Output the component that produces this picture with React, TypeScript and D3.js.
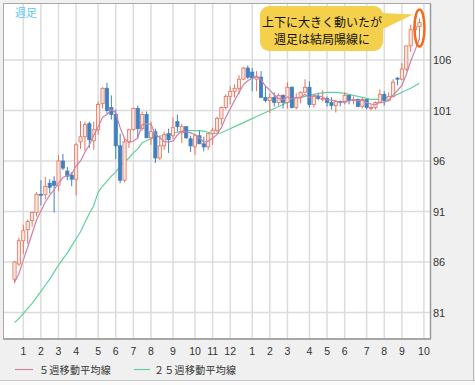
import React from "react";
import * as d3 from "d3";

// weekly USD/JPY-like candles, index 0 = first week shown
const opens = [84.3,85.8,88.1,89.2,90.1,90.9,92.7,92.7,93.8,94.0,93.6,96.0,95.0,94.6,94.2,97.9,98.4,99.7,98.0,99.1,101.7,103.2,101.3,100.6,97.5,94.1,97.9,99.1,101.2,99.2,100.6,98.3,98.9,96.3,97.5,98.7,98.5,99.9,98.8,99.4,98.2,97.4,98.5,97.7,97.4,98.7,99.0,100.2,101.3,102.4,102.9,103.2,104.1,105.2,104.8,104.1,104.3,102.3,102.0,102.3,101.8,102.5,101.8,103.3,101.3,102.3,102.8,103.3,101.6,102.4,102.2,102.2,101.8,101.5,101.9,101.8,102.5,102.0,102.1,101.4,102.1,101.3,101.3,101.8,102.6,102.0,102.4,104.2,104.1,105.1,107.4,109.0,109.3];
const highs = [86.1,88.4,89.7,90.2,91.0,92.9,94.1,94.4,94.2,94.5,96.6,96.7,95.4,94.9,97.8,99.95,99.9,99.9,99.9,101.9,103.3,103.75,102.5,101.1,98.7,98.2,99.2,101.3,101.5,100.9,100.9,99.9,99.2,98.5,98.9,99.2,100.3,100.6,99.7,99.4,98.5,98.6,99.0,98.4,98.8,99.3,100.4,101.4,102.6,103.4,103.6,104.5,105.3,105.45,105.2,104.9,104.9,103.4,102.7,102.8,102.7,102.6,103.8,103.4,102.7,102.9,104.1,103.9,102.6,102.7,103.0,102.4,102.3,102.0,102.0,102.8,102.5,102.4,102.2,102.3,102.1,101.6,101.9,103.1,102.9,102.8,104.1,104.3,105.7,107.4,109.5,109.5,110.1];
const lows = [83.9,85.6,86.8,87.8,89.5,90.5,91.6,92.2,92.8,90.9,93.0,95.1,94.1,93.5,92.6,97.2,97.0,97.3,97.1,98.6,101.2,100.7,100.1,96.2,93.8,93.9,97.3,99.0,98.3,99.0,98.3,97.6,95.8,96.1,97.1,96.8,98.2,98.9,97.8,98.2,96.9,96.6,97.7,96.95,97.1,97.6,98.8,99.6,101.1,101.6,102.3,102.6,104.0,104.1,102.9,102.9,102.3,101.8,100.75,101.4,101.5,101.2,101.2,101.2,101.1,101.7,102.8,101.3,101.3,102.0,101.9,101.4,101.1,100.8,101.4,101.6,101.6,101.6,101.4,101.2,101.1,101.0,101.1,101.7,101.5,101.9,102.3,103.5,104.0,104.9,106.8,108.3,108.0];
const closes = [86.0,88.1,89.1,90.0,90.9,92.7,92.6,93.5,93.4,93.6,96.0,95.3,94.5,94.2,97.6,98.4,99.6,98.1,99.1,101.6,103.2,101.0,100.6,97.5,94.1,97.9,99.1,101.2,99.2,100.6,98.3,98.9,96.3,97.5,98.6,98.1,99.3,99.4,99.4,98.3,97.5,98.5,97.7,97.4,98.7,99.05,100.2,101.3,102.4,102.9,103.2,104.1,105.2,104.3,104.2,104.3,102.3,102.0,102.3,101.8,102.5,101.8,103.3,101.3,102.3,102.8,103.3,101.6,102.4,102.2,102.2,101.8,101.5,101.9,101.8,102.5,102.0,102.1,101.4,102.1,101.3,101.3,101.8,102.6,102.0,102.4,103.8,104.1,105.1,107.4,109.0,109.3,109.7];

const ma5 = [84.0,84.84,86.18,87.48,88.82,90.16,91.06,91.94,92.62,93.16,93.82,94.36,94.56,94.72,95.52,96.0,96.86,97.58,98.56,99.36,100.32,100.6,101.1,100.78,99.28,98.22,97.84,97.96,98.3,99.6,99.68,99.64,98.66,98.32,97.92,97.88,97.96,98.58,98.96,98.9,98.78,98.62,98.28,97.88,97.96,98.27,98.61,99.33,100.33,101.17,102.0,102.78,103.56,103.94,104.2,104.42,104.06,103.42,103.02,102.54,102.18,102.08,102.34,102.14,102.24,102.3,102.6,102.26,102.48,102.46,102.34,102.04,102.02,101.92,101.84,101.9,101.94,102.06,101.96,102.02,101.78,101.64,101.58,101.82,101.8,102.02,102.52,102.98,103.48,104.56,105.88,106.98,108.1];
const ma25 = [80.0,80.4,80.9,81.4,81.9,82.5,83.1,83.7,84.3,85.0,85.7,86.3,86.9,87.6,88.3,89.0,89.9,90.8,91.6,92.9,93.5,94.0,94.5,94.9,95.5,95.9,96.3,96.8,97.2,97.8,98.0,98.2,98.35,98.45,98.55,98.65,98.75,98.85,98.95,99.0,99.0,99.0,99.0,98.95,98.85,98.75,98.7,98.8,99.0,99.2,99.4,99.6,99.8,100.0,100.2,100.4,100.6,100.8,101.0,101.2,101.4,101.6,101.8,102.0,102.2,102.3,102.4,102.5,102.6,102.7,102.75,102.8,102.8,102.8,102.75,102.7,102.6,102.5,102.4,102.3,102.2,102.1,102.1,102.1,102.2,102.3,102.4,102.6,102.8,103.0,103.2,103.45,103.7];

// month gridlines: week index where each month starts, and its label
const monthIdx = [2,6,10,14,19,23,27,31,36,41,45,49,54,58,62,67,71,75,80,84,88,93];
const monthLabels = ["1","2","3","4","5","6","7","8","9","10","11","12","1","2","3","4","5","6","7","8","9","10"];
const yTicks = [106,101,96,91,86,81];

const legendItems = ["５週移動平均線", "２５週移動平均線"];
const calloutLines = ["上下に大きく動いたが", "週足は結局陽線に"];
const cornerLabel = "週足";

const W = 475, H = 385;
const PL = 3.5, PR = 430.5, PT = 3.5, PB = 339;

const UP_STROKE = "#e2735b", UP_FILL = "#fbe6df", DOWN = "#3f80c2";
const MA5_COLOR = "#cf80a4", MA25_COLOR = "#63d09c";

export default function App() {
  const x = d3.scaleLinear().domain([-2.5, 94.5]).range([PL, PR]);
  const y = d3.scaleLinear().domain([106, 81]).range([60, 312.5]);
  const idx = d3.range(closes.length);

  const line = d3.line<number>().x((_, i) => x(i)).y((d) => y(d));
  const bw = 3.2;
  const last = closes.length - 1;

  return (
    <svg width={W} height={H} style={{ position: "absolute", left: 0, top: 0, display: "block" }}
      fontFamily="'Liberation Sans', Arial, sans-serif">
      <rect x={0} y={0} width={W} height={H} fill="#f0f0f0" />
      <rect x={0} y={381} width={W} height={4} fill="#fafafa" />
      <line x1={0} x2={W} y1={380.5} y2={380.5} stroke="#c8c8c8" />
      <line x1={473.5} x2={473.5} y1={0} y2={381} stroke="#b4b4b4" />
      <rect x={PL} y={PT} width={PR - PL} height={PB - PT} fill="#ffffff" />

      {/* grid */}
      {yTicks.map((t) => (
        <line key={"gy" + t} x1={PL} x2={PR} y1={y(t)} y2={y(t)} stroke="#dcdcdc" strokeWidth={1.5} />
      ))}
      {monthIdx.map((m, i) => (
        <line key={"gx" + i} x1={x(m)} x2={x(m)} y1={PT} y2={PB} stroke="#dcdcdc" strokeWidth={1.5} />
      ))}

      {/* moving averages */}
      <path d={line(ma25) || ""} fill="none" stroke={MA25_COLOR} strokeWidth={1.2} />

      {/* candles */}
      {idx.map((i) => {
        const up = closes[i] >= opens[i];
        const top = y(Math.max(opens[i], closes[i]));
        const bot = y(Math.min(opens[i], closes[i]));
        const col = up ? UP_STROKE : DOWN;
        return (
          <g key={"c" + i}>
            <line x1={x(i)} x2={x(i)} y1={y(highs[i])} y2={y(lows[i])} stroke={col} strokeWidth={1} />
            <rect x={x(i) - bw / 2} y={top} width={bw} height={Math.max(bot - top, 1)}
              fill={up ? UP_FILL : DOWN} stroke={col} strokeWidth={0.8} />
          </g>
        );
      })}
      <path d={line(ma5) || ""} fill="none" stroke={MA5_COLOR} strokeWidth={1.2} />

      <rect x={PL} y={PT} width={PR - PL} height={PB - PT} fill="none" stroke="#a8a8a8" strokeWidth={1} />
      <line x1={PR} x2={PR} y1={PT} y2={PB} stroke="#9a9a9a" strokeWidth={1.5} />
      <line x1={PL} x2={PR} y1={PB} y2={PB} stroke="#9a9a9a" strokeWidth={1.5} />

      {/* y labels */}
      {yTicks.map((t) => (
        <text key={"yl" + t} x={433} y={y(t) + 4} fontSize={11} fill="#333">{t}</text>
      ))}
      {/* x labels */}
      {monthIdx.map((m, i) => (
        <text key={"xl" + i} x={x(m)} y={354.5} fontSize={10.5} fill="#333" textAnchor="middle">{monthLabels[i]}</text>
      ))}

      {/* legend */}
      <line x1={15} x2={33} y1={369.5} y2={369.5} stroke={MA5_COLOR} strokeWidth={1.2} />
      <text x={39} y={373.5} fontSize={10} fill="#333" letterSpacing={0.3}
        fontFamily="'Noto Sans CJK JP', sans-serif">{legendItems[0]}</text>
      <line x1={134} x2={150} y1={369.5} y2={369.5} stroke={MA25_COLOR} strokeWidth={1.2} />
      <text x={154} y={373.5} fontSize={10} fill="#333" letterSpacing={0.3}
        fontFamily="'Noto Sans CJK JP', sans-serif">{legendItems[1]}</text>

      {/* corner label */}
      <text x={15} y={16.5} fontSize={11} fill="#5cc6f0" fontFamily="'Noto Sans CJK JP', sans-serif">{cornerLabel}</text>

      {/* callout */}
      <path d={`M381,13 L413,14.5 L381,30 Z`} fill="#f4d04c" />
      <rect x={260} y={6} width={123} height={45} rx={9} fill="#f4d04c" />
      {calloutLines.map((t, i) => (
        <text key={"cl" + i} x={322} y={26.5 + i * 17.6} fontSize={12} fill="#111" textAnchor="middle"
          fontFamily="'Noto Sans CJK JP', sans-serif">{t}</text>
      ))}
      <ellipse cx={x(last)} cy={28} rx={5} ry={18.5} fill="none" stroke="#f26b1d" strokeWidth={2.5} />
    </svg>
  );
}
